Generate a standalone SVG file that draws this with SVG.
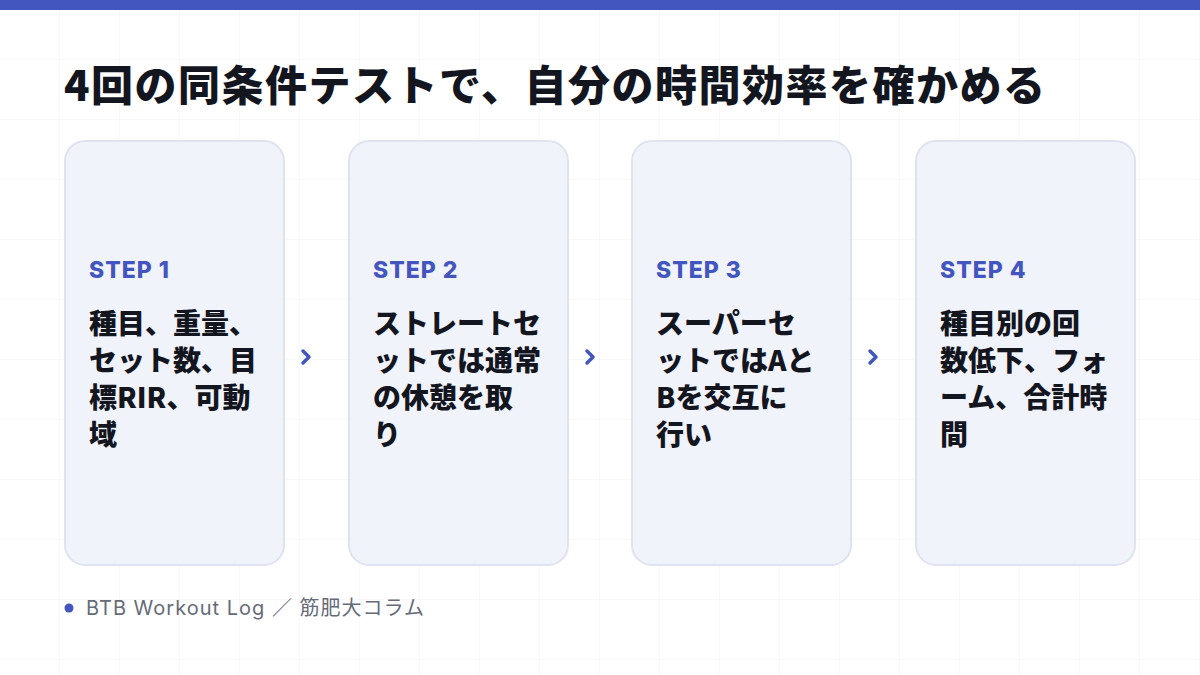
<svg xmlns="http://www.w3.org/2000/svg" width="1200" height="675" viewBox="0 0 1200 675">
<defs>
<pattern id="grid" width="60" height="60" patternUnits="userSpaceOnUse">
<path d="M60 0V60M0 60H60" fill="none" stroke="#eef0f4" stroke-width="1"/>
</pattern>
<style>
.card{fill:#f1f3fb;stroke:#dfe3ef;stroke-width:2}
.step{font-family:"Inter","Noto Sans CJK JP",sans-serif;font-weight:800;font-size:23px;letter-spacing:1px;fill:#4356c0}
.body{font-family:"Noto Sans CJK JP",sans-serif;font-weight:900;font-size:28px;fill:#14161f}
.arr{fill:none;stroke:#4356c0;stroke-width:3.5;stroke-linecap:round;stroke-linejoin:round}
</style>
</defs>
<rect width="1200" height="675" fill="#ffffff"/>
<rect width="1200" height="675" fill="url(#grid)"/>
<rect width="1200" height="10" fill="#4356c0"/>
<text x="64" y="101" font-family="'Noto Sans CJK JP',sans-serif" font-weight="900" font-size="42" fill="#14161f" textLength="981" lengthAdjust="spacing">4回の同条件テストで、自分の時間効率を確かめる</text>
<g id="step1"><rect class="card" x="65" y="141" width="219" height="424" rx="20"/>
<text class="step" x="89" y="278">STEP 1</text>
<text class="body" x="89" y="334">種目、重量、</text><text class="body" x="89" y="371">セット数、目</text><text class="body" x="89" y="408">標RIR、可動</text><text class="body" x="89" y="445">域</text></g>
<g id="step2"><rect class="card" x="349" y="141" width="219" height="424" rx="20"/>
<text class="step" x="373" y="278">STEP 2</text>
<text class="body" x="373" y="334">ストレートセ</text><text class="body" x="373" y="371">ットでは通常</text><text class="body" x="373" y="408">の休憩を取</text><text class="body" x="373" y="445">り</text></g>
<g id="step3"><rect class="card" x="632" y="141" width="219" height="424" rx="20"/>
<text class="step" x="656" y="278">STEP 3</text>
<text class="body" x="656" y="334">スーパーセ</text><text class="body" x="656" y="371">ットではAと</text><text class="body" x="656" y="408">Bを交互に</text><text class="body" x="656" y="445">行い</text></g>
<g id="step4"><rect class="card" x="916" y="141" width="219" height="424" rx="20"/>
<text class="step" x="940" y="278">STEP 4</text>
<text class="body" x="940" y="334">種目別の回</text><text class="body" x="940" y="371">数低下、フォ</text><text class="body" x="940" y="408">ーム、合計時</text><text class="body" x="940" y="445">間</text></g>
<g id="connectors">
<path class="arr" d="M303 351L309 357L303 363"/>
<path class="arr" d="M587 351L593 357L587 363"/>
<path class="arr" d="M870 351L876 357L870 363"/>
</g>
<g id="footer">
<circle cx="69" cy="608" r="4.5" fill="#4356c0"/>
<text x="86" y="615" font-family="Inter,'Noto Sans CJK JP',sans-serif" font-size="20" fill="#666b78" textLength="338" lengthAdjust="spacing">BTB Workout Log ／ 筋肥大コラム</text>
</g>
</svg>
